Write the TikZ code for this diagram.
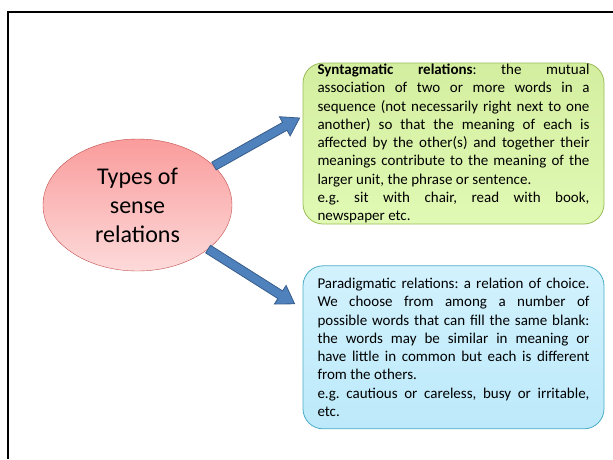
\documentclass[tikz,border=0pt]{standalone}
\usepackage{fontspec}
\setmainfont{Carlito}
\usepackage{xcolor}
\usepackage{tikz}
\usetikzlibrary{shapes.geometric, arrows.meta, positioning, calc}
\definecolor{ovaltop}{RGB}{250,156,156}
\definecolor{ovalbottom}{RGB}{253,218,218}
\definecolor{ovalborder}{RGB}{192,80,77}
\definecolor{syntop}{RGB}{212,238,160}
\definecolor{synbottom}{RGB}{224,249,180}
\definecolor{synborder}{RGB}{155,187,89}
\definecolor{partop}{RGB}{210,242,253}
\definecolor{parbottom}{RGB}{188,233,250}
\definecolor{parborder}{RGB}{75,172,198}
\definecolor{arrowblue}{RGB}{79,129,189}
\definecolor{arrowborder}{RGB}{56,93,138}
\frenchspacing

\begin{document}
\begin{tikzpicture}[
    x=1pt, y=-1pt,
    oval/.style={ellipse, draw=ovalborder, top color=ovaltop, bottom color=ovalbottom, minimum width=189pt, minimum height=132pt, inner sep=0pt, align=center, font=\fontsize{24}{29}\selectfont},
    textbox/.style={draw, rounded corners=20pt, line width=0.8pt, text width=272pt, inner xsep=14.5pt, inner ysep=0pt, align=justify, font=\fontsize{15}{18.25}\selectfont},
    blockarrow/.style={draw=arrowborder, fill=arrowblue, line width=0.8pt, to path={
        ($(\tikztostart)!4.5pt!90:(\tikztotarget)$) --
        ($(\tikztotarget)!17.59pt!-14.83:(\tikztostart)$) --
        ($(\tikztotarget)!20.25pt!-32.91:(\tikztostart)$) --
        (\tikztotarget) --
        ($(\tikztotarget)!20.25pt!32.91:(\tikztostart)$) --
        ($(\tikztotarget)!17.59pt!14.83:(\tikztostart)$) --
        ($(\tikztostart)!4.5pt!-90:(\tikztotarget)$) -- cycle}}
]
    \useasboundingbox (0,0) rectangle (613,459);
    \draw[line width=2pt] (8,459) -- (8,12) -- (613,12);

    \node[oval] (sense) at (137.5,205) {Types of\\sense\\relations};

    \node[textbox, draw=synborder, top color=syntop, bottom color=synbottom, minimum height=161pt] (syntag) at (453.5,143.5)
        {\textbf{Syntagmatic relations}: the mutual \linebreak association of two or more words in a \linebreak sequence (not necessarily right next to one \linebreak another) so that the meaning of each is \linebreak affected by the other(s) and together their \linebreak meanings contribute to the meaning of the \linebreak larger unit, the phrase or sentence.\\ e.g. sit with chair, read with book, \linebreak newspaper etc.};
    \node[textbox, draw=parborder, top color=partop, bottom color=parbottom, minimum height=163pt, below=41pt of syntag] (paradig)
        {Paradigmatic relations: a relation of choice. \linebreak We choose from among a number of \linebreak possible words that can fill the same blank: \linebreak the words may be similar in meaning or \linebreak have little in common but each is different \linebreak from the others.\\ e.g. cautious or careless, busy or irritable, \linebreak etc.};

    \coordinate (tailA) at (sense.27);
    \coordinate (tipA) at ([xshift=-3pt, yshift=25.5pt]syntag.west);
    \coordinate (tailB) at (sense.-32);
    \coordinate (tipB) at ([xshift=-8pt, yshift=43.5pt]paradig.west);

    \draw[blockarrow] (tailA) to (tipA);
    \draw[blockarrow] (tailB) to (tipB);
\end{tikzpicture}
\end{document}
